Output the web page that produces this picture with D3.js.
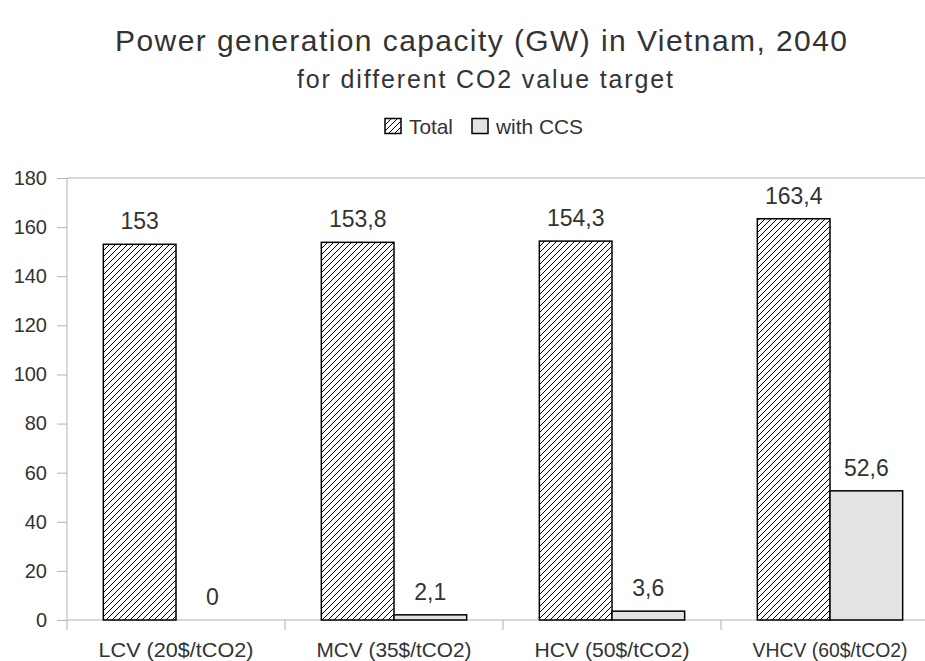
<!DOCTYPE html>
<html>
<head>
<meta charset="utf-8">
<script src="https://cdn.jsdelivr.net/npm/d3@7"></script>
<style>
  body { margin: 0; background: #fff; }
  svg text { font-family: "Liberation Sans", Arial, sans-serif; fill: #333; }
</style>
</head>
<body>
<div></div>
<script>
const categories = ['LCV (20$/tCO2)', 'MCV (35$/tCO2)', 'HCV (50$/tCO2)', 'VHCV (60$/tCO2)'];
const series = ['Total', 'with CCS'];
const totalValues = [153, 153.8, 154.3, 163.4];
const ccsValues = [0, 2.1, 3.6, 52.6];
const yTicks = [0, 20, 40, 60, 80, 100, 120, 140, 160, 180];

const svgWidth = 925,
    svgHeight = 661,
    plotLeft = 67,
    plotTop = 178,
    plotBottom = 620,
    bandW = 218;

const svg = d3.select('body')
    .select('div')
    .append('svg')
    .attr('width', svgWidth)
    .attr('height', svgHeight);

// hatch for the Total series
svg.append('defs')
    .append('pattern')
    .attr('id', 'hatch')
    .attr('patternUnits', 'userSpaceOnUse')
    .attr('width', 6)
    .attr('height', 6)
    .call(p => p.append('rect').attr('width', 6).attr('height', 6).attr('fill', '#fff'))
    .append('path')
    .attr('d', 'M0,6 L6,0 M-1,1 L1,-1 M5,7 L7,5')
    .attr('stroke', '#000')
    .attr('stroke-width', 1);

const xScale = d3.scaleBand()
    .domain(categories)
    .range([plotLeft, plotLeft + bandW * categories.length]);

const subScale = d3.scaleBand()
    .domain(series)
    .range([bandW / 6, bandW * 5 / 6]);

const yScale = d3.scaleLinear()
    .domain([0, 180])
    .range([plotBottom, plotTop]);

const fills = { 'Total': 'url(#hatch)', 'with CCS': '#e3e3e3' };

// titles
svg.append('text')
    .attr('x', 481).attr('y', 51)
    .attr('text-anchor', 'middle')
    .attr('textLength', 732).attr('lengthAdjust', 'spacing')
    .style('font-size', '30px')
    .text('Power generation capacity (GW) in Vietnam, 2040');

svg.append('text')
    .attr('x', 485).attr('y', 88)
    .attr('text-anchor', 'middle')
    .attr('textLength', 376).attr('lengthAdjust', 'spacing')
    .style('font-size', '25px')
    .text('for different CO2 value target');

// legend
const legend = svg.append('g').attr('id', 'legend');
const legendX = [385, 472];
const legendW = [44, 87];
series.forEach((s, i) => {
    legend.append('rect')
        .attr('x', legendX[i]).attr('y', 118.5)
        .attr('width', 16).attr('height', 15)
        .attr('fill', fills[s])
        .attr('stroke', '#000')
        .attr('stroke-width', 1.5);
    legend.append('text')
        .attr('x', legendX[i] + 24).attr('y', 134)
        .attr('textLength', legendW[i]).attr('lengthAdjust', 'spacingAndGlyphs')
        .style('font-size', '21px')
        .text(s);
});

// axes
const yAxis = d3.axisLeft(yScale)
    .tickValues(yTicks)
    .tickSize(10)
    .tickPadding(10);

svg.append('g')
    .attr('id', 'y-axis')
    .attr('transform', `translate(${plotLeft}, 0)`)
    .call(yAxis)
    .call(g => g.select('.domain').remove())
    .call(g => g.selectAll('line').attr('stroke', '#b3b3b3'))
    .call(g => g.selectAll('text').style('font-size', '20px').attr('fill', '#333'));

svg.append('line')
    .attr('x1', plotLeft).attr('x2', plotLeft)
    .attr('y1', plotTop).attr('y2', plotBottom)
    .attr('stroke', '#b3b3b3');

svg.append('line')
    .attr('x1', plotLeft).attr('x2', svgWidth)
    .attr('y1', yScale(180)).attr('y2', yScale(180))
    .attr('stroke', '#b3b3b3');

const xAxisG = svg.append('g')
    .attr('id', 'x-axis')
    .attr('transform', `translate(0, ${plotBottom})`);

xAxisG.append('line')
    .attr('x1', plotLeft).attr('x2', svgWidth)
    .attr('stroke', '#b3b3b3');

xAxisG.selectAll('line.tick')
    .data(categories)
    .enter()
    .append('line')
    .attr('class', 'tick')
    .attr('x1', d => xScale(d)).attr('x2', d => xScale(d))
    .attr('y1', 0).attr('y2', 10)
    .attr('stroke', '#b3b3b3');

xAxisG.selectAll('text')
    .data(categories)
    .enter()
    .append('text')
    .attr('x', d => xScale(d) + bandW / 2)
    .attr('y', 37)
    .attr('text-anchor', 'middle')
    .attr('textLength', 155).attr('lengthAdjust', 'spacingAndGlyphs')
    .style('font-size', '21px')
    .text(d => d);

// bars
const rows = categories.map((c, i) => [
    { cat: c, key: 'Total', value: totalValues[i] },
    { cat: c, key: 'with CCS', value: ccsValues[i] }
]).flat();

svg.append('g')
    .selectAll('rect')
    .data(rows)
    .enter()
    .append('rect')
    .attr('x', d => xScale(d.cat) + subScale(d.key))
    .attr('y', d => yScale(d.value))
    .attr('width', subScale.bandwidth())
    .attr('height', d => yScale(0) - yScale(d.value))
    .attr('fill', d => fills[d.key])
    .attr('stroke', d => d.value > 0 ? '#000' : 'none')
    .attr('stroke-width', 1.5);

svg.append('g')
    .selectAll('text')
    .data(rows)
    .enter()
    .append('text')
    .attr('x', d => xScale(d.cat) + subScale(d.key) + subScale.bandwidth() / 2)
    .attr('y', d => yScale(d.value) - 15)
    .attr('text-anchor', 'middle')
    .style('font-size', '23px')
    .text(d => String(d.value).replace('.', ','));
</script>
</body>
</html>
